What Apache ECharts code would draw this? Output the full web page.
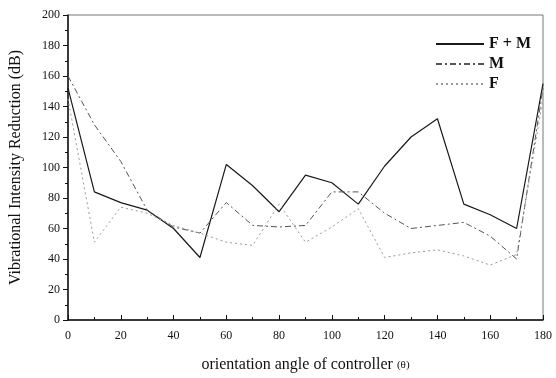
<!DOCTYPE html>
<html>
<head>
<meta charset="utf-8">
<script src="https://cdn.jsdelivr.net/npm/echarts@6/dist/echarts.min.js"></script>
<style>
  html, body { margin: 0; padding: 0; background: #fff; }
  #chart { width: 556px; height: 378px; }
</style>
</head>
<body>
<div id="chart"></div>
<script>
// orientation angle (θ)
const angles = [0, 10, 20, 30, 40, 50, 60, 70, 80, 90, 100, 110, 120, 130, 140, 150, 160, 170, 180]

// vibrational intensity reduction (dB)
const fm = [152, 84, 77, 72, 60, 41, 102, 88, 71, 95, 90, 76, 101, 120, 132, 76, 69, 60, 155]
const m = [160, 128, 104, 72, 61, 57, 77, 62, 61, 62, 84, 84, 70, 60, 62, 64, 55, 40, 152]
const f = [145, 51, 74, 70, 62, 57, 51, 49, 76, 51, 61, 73, 41, 44, 46, 42, 36, 43, 145]

const seriesNames = ['F + M', 'M', 'F']

const serif = 'Liberation Serif'

const chart = echarts.init(document.getElementById('chart'), null, { renderer: 'canvas' })

const toPairs = vals => angles.map((a, i) => [a, vals[i]])

chart.setOption({
  backgroundColor: '#fff',
  animation: false,
  grid: {
    left: 64,
    right: 13,
    top: 15,
    bottom: 53,
    show: true,
    borderColor: '#777',
    borderWidth: 1,
  },
  legend: {
    orient: 'vertical',
    left: 430,
    top: 31,
    itemWidth: 48,
    itemHeight: 10,
    itemGap: 4,
    data: seriesNames,
    itemStyle: { opacity: 0 },
    textStyle: {
      fontFamily: serif,
      fontWeight: 'bold',
      fontSize: 16,
      color: '#111',
    },
  },
  xAxis: {
    type: 'value',
    min: 0,
    max: 180,
    interval: 20,
    name: 'orientation angle of controller {s|(θ)}',
    nameLocation: 'middle',
    nameGap: 37,
    nameTextStyle: {
      fontFamily: serif,
      fontSize: 16,
      color: '#111',
      rich: { s: { fontFamily: serif, fontSize: 11, color: '#111' } },
    },
    axisLine: { lineStyle: { color: '#111', width: 1.5 } },
    axisTick: { inside: true, length: 5, lineStyle: { color: '#111' } },
    minorTick: { show: true, splitNumber: 2, length: 3, lineStyle: { color: '#111' } },
    axisLabel: { fontFamily: serif, fontSize: 12, color: '#111', margin: 10 },
    splitLine: { show: false },
  },
  yAxis: {
    type: 'value',
    min: 0,
    max: 200,
    interval: 20,
    name: 'Vibrational Intensity Reduction (dB)',
    nameLocation: 'middle',
    nameGap: 44,
    nameTextStyle: { fontFamily: serif, fontSize: 16, color: '#111' },
    axisLine: { show: true, lineStyle: { color: '#111', width: 1.5 } },
    axisTick: { show: true, inside: false, length: 5, lineStyle: { color: '#111' } },
    minorTick: { show: true, splitNumber: 2, length: 3, lineStyle: { color: '#111' } },
    axisLabel: { fontFamily: serif, fontSize: 12, color: '#111', margin: 8 },
    splitLine: { show: false },
  },
  series: [
    {
      name: 'F + M',
      type: 'line',
      data: toPairs(fm),
      symbol: 'none',
      lineStyle: { color: '#1a1a1a', width: 1.2 },
      itemStyle: { color: '#1a1a1a' },
    },
    {
      name: 'M',
      type: 'line',
      data: toPairs(m),
      symbol: 'none',
      lineStyle: { color: '#555', width: 1, type: [6, 3, 2, 3] },
      itemStyle: { color: '#555' },
    },
    {
      name: 'F',
      type: 'line',
      data: toPairs(f),
      symbol: 'none',
      lineStyle: { color: '#999', width: 1, type: [2, 3] },
      itemStyle: { color: '#999' },
    },
  ],
})
</script>
</body>
</html>
